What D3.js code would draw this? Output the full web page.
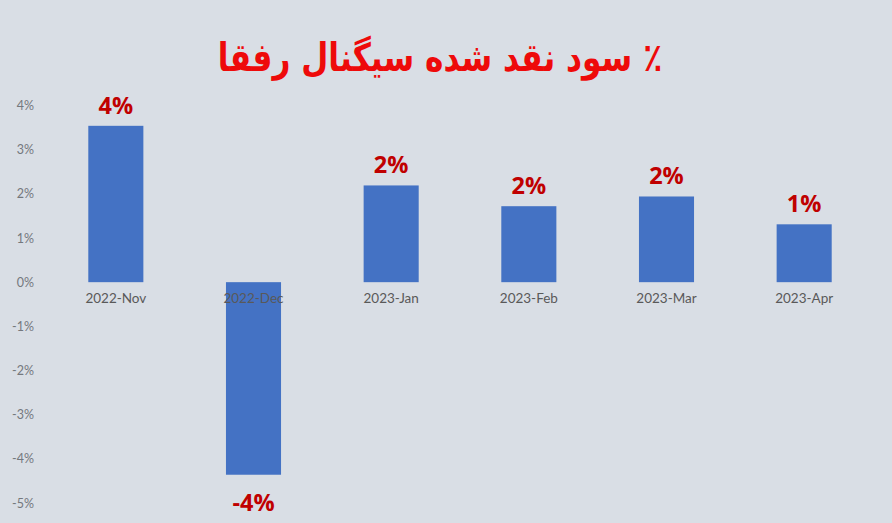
<!DOCTYPE html>
<html><head><meta charset="utf-8">
<script src="https://cdn.jsdelivr.net/npm/d3@7/dist/d3.min.js"></script>
<style>body{margin:0;background:#d9dee5;}svg{display:block;}</style>
</head><body>
<svg id="chart" width="892" height="523"></svg>
<script>
const categories = ["2022-Nov","2022-Dec","2023-Jan","2023-Feb","2023-Mar","2023-Apr"];
const values = [3.54, -4.36, 2.19, 1.72, 1.94, 1.31];
const labels = ["4%","-4%","2%","2%","2%","1%"];
const yTicks = [4,3,2,1,0,-1,-2,-3,-4,-5];
const title = "٪ سود نقد شده سیگنال رفقا";

const svg = d3.select("#chart");
svg.append("rect").attr("width",892).attr("height",523).attr("fill","#d9dee5");

const x = d3.scaleBand().domain(categories).range([47,873]).paddingInner(0.6).paddingOuter(0.3);
const y = d3.scaleLinear().domain([-5,4]).range([503,105.5]);

// y axis labels
const yAxis = d3.axisLeft(y).tickValues(yTicks).tickFormat(d=>d+"%").tickSize(0).tickPadding(0);
const ya = svg.append("g").attr("transform","translate(34,0)").call(yAxis);
ya.select(".domain").remove();
ya.selectAll("text").attr("font-family","Lato, 'Open Sans', sans-serif").attr("font-size",12.5).attr("fill","#74787d");

// bars
svg.selectAll("rect.bar").data(values).join("rect").attr("class","bar")
  .attr("x",(d,i)=>x(categories[i]))
  .attr("width",x.bandwidth())
  .attr("y",d=>y(Math.max(0,d)))
  .attr("height",d=>Math.abs(y(d)-y(0)))
  .attr("fill","#4472c4");

// category labels
const xAxis = d3.axisBottom(x).tickSize(0).tickPadding(0);
const xa = svg.append("g").attr("transform",`translate(0,${y(0)+11})`).call(xAxis);
xa.select(".domain").remove();
xa.selectAll("text").attr("font-family","Lato, 'Open Sans', sans-serif").attr("font-size",13.5).attr("fill","#595959").attr("dy","0.71em");

// data labels
svg.selectAll("text.dl").data(values).join("text").attr("class","dl")
  .attr("x",(d,i)=>x(categories[i])+x.bandwidth()/2)
  .attr("y",d=>d>=0 ? y(d)-12 : y(d)+36)
  .attr("text-anchor","middle")
  .attr("font-family","'Open Sans', 'DejaVu Sans', sans-serif")
  .attr("font-weight","bold").attr("font-size",23.5).attr("fill","#c00000")
  .text((d,i)=>labels[i]);

// title
svg.append("g").attr("transform","translate(440,71) scale(0.8,1)")
  .append("text").attr("x",0).attr("y",0).attr("text-anchor","middle")
  .attr("direction","rtl")
  .attr("font-family","'DejaVu Sans', sans-serif").attr("font-weight","bold")
  .attr("font-size",39).attr("fill","#ee0a0a").text(title);
</script>
</body></html>
